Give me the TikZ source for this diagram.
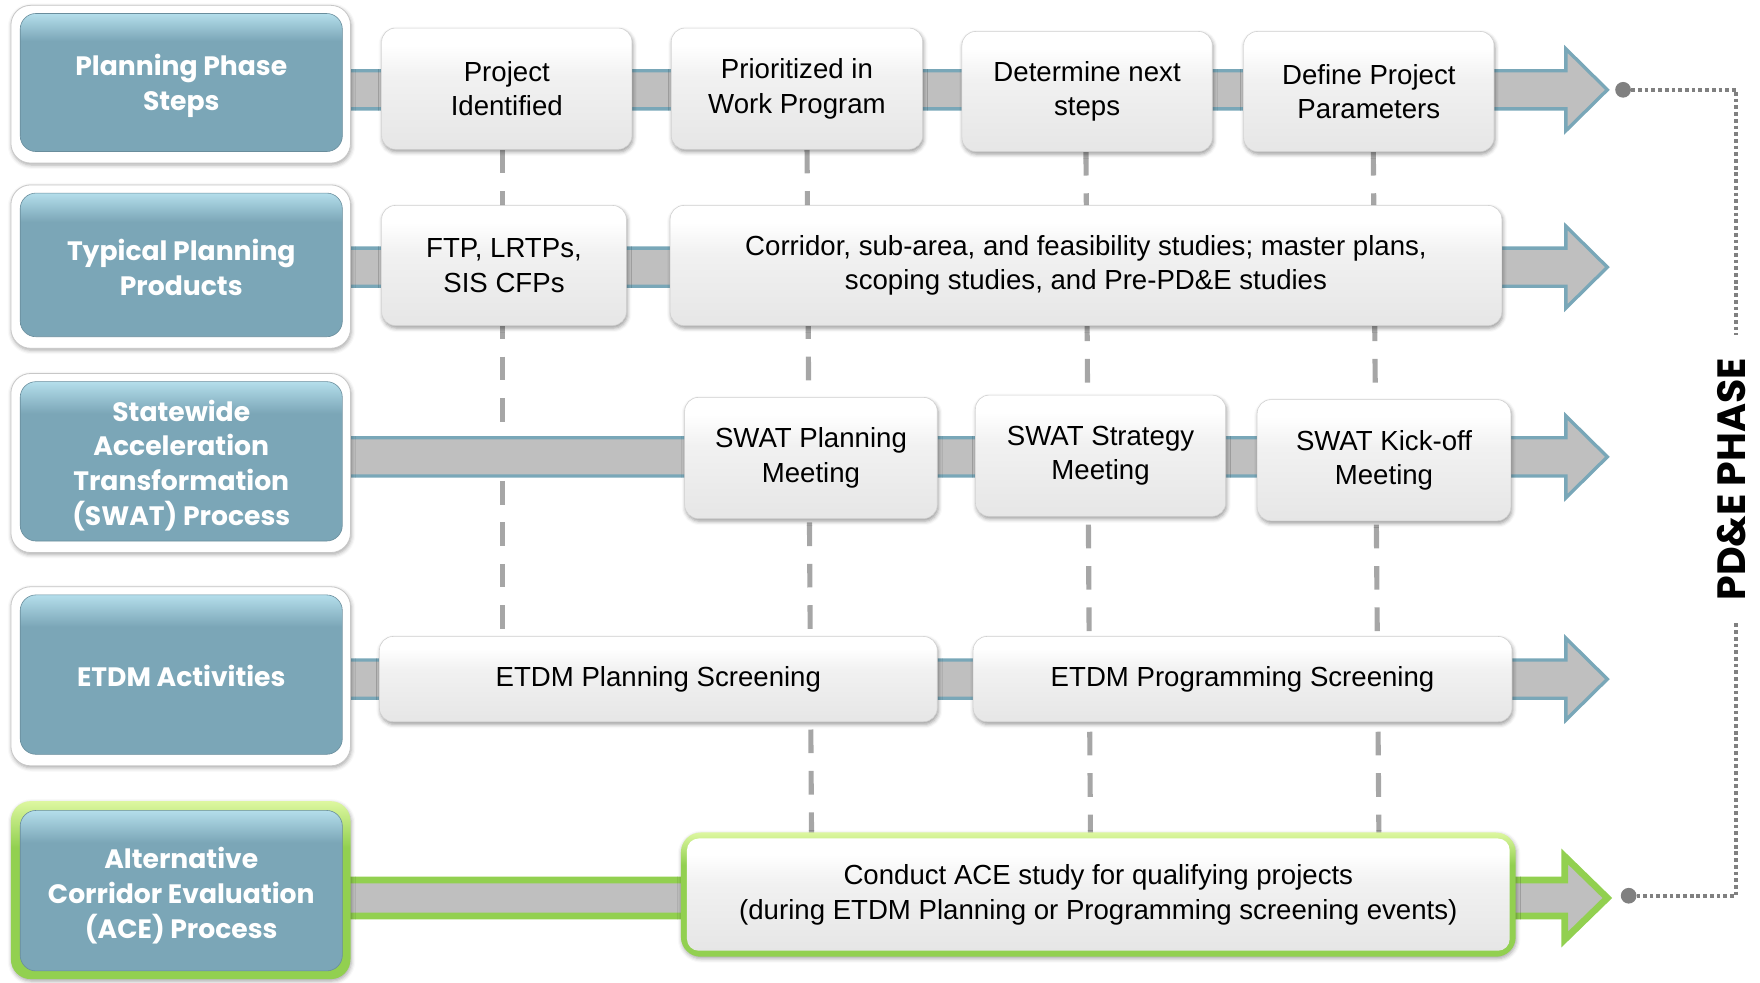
\documentclass[tikz,border=0pt]{standalone}
\usepackage{fontspec}
\setmainfont{Liberation Sans}
\newfontfamily\lblfont{Poppins}
\usetikzlibrary{calc,shadows.blur}

\definecolor{lblblue}{HTML}{7BA6B7}
\definecolor{lbltop}{HTML}{B4DEEB}
\definecolor{bandgray}{HTML}{BFBFBF}
\definecolor{bandblue}{HTML}{79A7B8}
\definecolor{acegreen}{HTML}{92D050}
\definecolor{acelight}{HTML}{DDF7A0}
\definecolor{guide}{HTML}{A6A6A6}
\definecolor{dotgray}{HTML}{808080}
\definecolor{boxlow}{HTML}{E6E6E6}
\definecolor{boxmid}{HTML}{F1F1F1}

\pgfdeclarelayer{bg}
\pgfdeclarelayer{mid}
\pgfsetlayers{bg,mid,main}

\pgfdeclareverticalshading{lblshade}{100bp}{color(0bp)=(lblblue); color(65bp)=(lblblue); color(75bp)=(lbltop); color(100bp)=(lbltop)}
\pgfdeclareverticalshading{stepshade}{100bp}{color(0bp)=(boxlow); color(25bp)=(boxlow); color(55bp)=(boxmid); color(68bp)=(white); color(100bp)=(white)}
\pgfdeclareverticalshading{greenshade}{100bp}{color(0bp)=(acegreen); color(62bp)=(acegreen); color(75bp)=(acelight); color(100bp)=(acelight)}

\def\pxu{0.2mm}

% band from a row label to the tip of its arrow
\newcommand{\flowband}[6]{%
  \path[#1] ($(#2.east|-#3)+(-15,-#4)$) -- ($(#3)+(-#6,-#4)$) -- ($(#3)+(-#6,-#5)$)
    -- (#3) -- ($(#3)+(-#6,#5)$) -- ($(#3)+(-#6,#4)$) -- ($(#2.east|-#3)+(-15,#4)$);}

\tikzset{
  sz/.style 2 args={minimum width={#1*\pxu}, minimum height={#2*\pxu}},
  lbl/.style={shading=lblshade, draw=lblblue!85!black, line width=0.3pt,
    rounded corners=8pt, inner sep=0pt},
  lbltext/.style={inner sep=0pt, align=center, text=white,
    font=\lblfont\bfseries\fontsize{13.5}{17.6}\selectfont},
  rim/.style={fill=white, draw=black!22, line width=0.4pt, rounded corners=10pt,
    blur shadow={shadow xshift=0.4pt, shadow yshift=-1pt, shadow blur radius=2pt, shadow opacity=35}},
  greenrim/.style={shading=greenshade, rounded corners=10pt,
    blur shadow={shadow xshift=0.4pt, shadow yshift=-1pt, shadow blur radius=2pt, shadow opacity=35}},
  stepbox/.style={shading=stepshade, draw=black!18, line width=0.3pt,
    rounded corners=7pt, inner sep=0pt, align=center,
    font=\fontsize{14}{17.6}\selectfont,
    blur shadow={shadow xshift=0.5pt, shadow yshift=-1.3pt, shadow blur radius=2pt, shadow opacity=40}},
  acebox/.style={shading=stepshade, rounded corners=6pt, inner sep=0pt, align=center,
    font=\fontsize{14}{17.6}\selectfont},
  band/.style={fill=bandgray, draw=bandblue, line width=1.7pt},
  gband/.style={fill=bandgray, draw=acegreen, line width=3.4pt},
  vdash/.style={draw=guide, line width=2.6pt, dash pattern=on 12pt off 9pt},
  dotline/.style={draw=dotgray, line width=2pt, dash pattern=on 1.9pt off 1.5pt},
  dotmark/.style={circle, fill=dotgray, inner sep=0pt, minimum size=2.8mm},
}

\begin{document}
\begin{tikzpicture}[x=0.2mm,y=-0.2mm]
\useasboundingbox (0,0) rectangle (1568,875);

% row labels
\node[lbl, sz={287}{123}] (lbl1) at (161.5,73.5) {};
\node[lbl, sz={287}{128}] (lbl2) at (161.5,236) {};
\node[lbl, sz={287}{142}] (lbl3) at (161.5,411) {};
\node[lbl, sz={287}{142}] (lbl4) at (161.5,601) {};
\node[lbl, sz={287}{143}] (lbl5) at (161.5,793.5) {};
\node[lbltext] (lbl1t) at (161.5,76.5) {Planning Phase\\Steps};
\node[lbltext] (lbl2t) at (161.5,238.5) {Typical Planning\\Products};
\node[lbltext] (lbl3t) at (161.5,414.5) {Statewide\\Acceleration\\Transformation\\(SWAT) Process};
\node[lbltext] (lbl4t) at (161.5,602) {ETDM Activities};
\node[lbltext] (lbl5t) at (161.5,798) {Alternative\\Corridor Evaluation\\(ACE) Process};

% planning phase steps
\node[stepbox, sz={223}{108}] (p1) at (451.5,79) {Project\\Identified};
\node[stepbox, sz={224}{108}] (p2) at (710,79) {\vphantom{g}Prioritized in\\Work Program};
\node[stepbox, sz={223}{107}] (p3) at (968.5,81.5) {Determine next\\steps\vphantom{p}};
\node[stepbox, sz={223}{107}] (p4) at (1219.5,81.5) {Define Project\\Parameters};

% typical planning products
\node[stepbox, sz={218}{107}] (q1) at (449,236.5) {FTP, LRTPs,\\SIS CFPs};
\node[stepbox, sz={741}{107}] (q2) at (967.5,236.5) {Corridor, sub-area, and feasibility studies; master plans,\\scoping studies, and Pre-PD\&E studies};

% SWAT meetings
\node[stepbox, sz={225}{108}] (s1) at (722.5,408) {SWAT Planning\\Meeting};
\node[stepbox, sz={223}{108}] (s2) at (980.5,406) {SWAT Strategy\\Meeting};
\node[stepbox, sz={226}{108}] (s3) at (1233,410) {SWAT Kick-off\\Meeting};

% ETDM screenings
\node[stepbox, sz={497}{76}] (e1) at (586.5,605) {ETDM Planning Screening};
\node[stepbox, sz={480}{76}] (e2) at (1107,605) {ETDM Programming Screening};

% ACE study
\node[acebox, sz={733}{100}] (c1) at (978.5,797) {Conduct ACE study for qualifying projects\\(during ETDM Planning or Programming screening events)};

% arrow tips
\coordinate (tip1) at (1432,80);
\coordinate (tip2) at (1432,238);
\coordinate (tip3) at (1432,407);
\coordinate (tip4) at (1432,605);
\coordinate (tip5) at (1432,800);

% PD&E phase bracket
\node[dotmark] (dot1) at (1446,80) {};
\node[dotmark] (dot2) at (1451,798) {};
\coordinate (bx) at (1547,0);
\node[rotate=90, inner xsep=4mm, inner ysep=0pt,
  font=\lblfont\bfseries\fontsize{20}{24}\selectfont] (pde) at (1543,427) {PD\&E PHASE};
\draw[dotline] (dot1) -| (pde.east -| bx);
\draw[dotline] (pde.west -| bx) |- (dot2);

\begin{pgfonlayer}{mid}
  \foreach \n in {lbl1,lbl2,lbl3,lbl4}
    \path[rim] ($(\n.north west)+(-8,-7)$) rectangle ($(\n.south east)+(7,10)$);
  \path[greenrim] ($(lbl5.north west)+(-8,-8)$) rectangle ($(lbl5.south east)+(7,7)$);
  \path[greenrim] ($(c1.north west)+(-5,-5)$) rectangle ($(c1.south east)+(5,5)$);
\end{pgfonlayer}

\begin{pgfonlayer}{bg}
  % milestone guides
  \draw[vdash] ($(p1.south)+(-4,0)$) -- ($(p1.south|-e1.north)+(-4,0)$);
  \draw[vdash] ($(p2.south)+(9,0)$) -- ($(p2.south|-c1.north)+(13,0)$);
  \draw[vdash] ($(p3.south)+(-1,0)$) -- ($(p3.south|-c1.north)+(3,0)$);
  \draw[vdash] ($(p4.south)+(4,0)$) -- ($(p4.south|-c1.north)+(9,0)$);
  % flow bands
  \flowband{band}{lbl1}{tip1}{17}{36.5}{37}
  \flowband{band}{lbl2}{tip2}{17}{36.5}{37}
  \flowband{band}{lbl3}{tip3}{17}{36.5}{37}
  \flowband{band}{lbl4}{tip4}{17}{36.5}{37}
  \flowband{gband}{lbl5}{tip5}{16}{37}{38}
\end{pgfonlayer}
\end{tikzpicture}
\end{document}
